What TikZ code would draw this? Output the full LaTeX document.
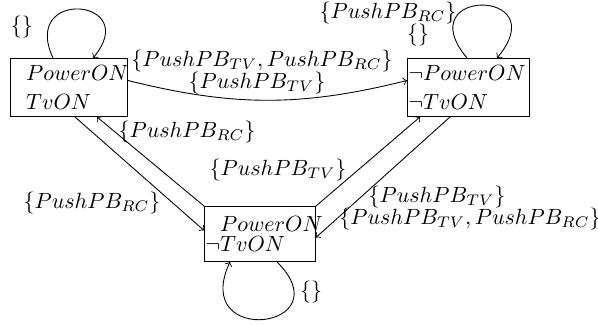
\documentclass[tikz,border=0pt]{standalone}
\usepackage{amsmath}
\usepackage{amssymb}
\usetikzlibrary{arrows,calc}
\tikzstyle{state} = [draw, rectangle, anchor=north west, align=left, inner xsep=0.5pt, inner ysep=0pt, minimum height=26.4pt]
\tikzstyle{trans} = [->]
\newcommand{\push}[1]{PushPB_{#1}}

\begin{document}
\begin{tikzpicture}[x=0.4545pt,y=0.4545pt]
    \useasboundingbox (0,0) rectangle (598,-324);
    % states
    \node[state,text width=52.2pt] (pa) at (10,-58)
        {$\phantom{\neg}PowerON$\\[1pt]$\phantom{\neg}TvON$};
    \node[state,text width=54.5pt] (pb) at (407,-58)
        {$\neg PowerON$\\[1pt]$\neg TvON$};
    \node[state,text width=49.5pt,minimum height=25pt] (pc) at (204,-206)
        {$\phantom{\neg}PowerON$\\[-2.5pt]$\neg TvON$};
    % self loops
    \draw[trans] ($(pa.north west)+(43,0)$) .. controls +(115:78) and +(50:78) .. ($(pa.north west)+(83,0)$);
    \draw[trans] ($(pb.north west)+(60,0)$) .. controls +(130:92) and +(50:92) .. ($(pb.north west)+(90,0)$);
    \draw[trans] ($(pc.south west)+(73,0)$) .. controls +(-45:95) and +(-115:95) .. ($(pc.south west)+(26,0)$);
    % transitions
    \draw[trans] ($(pa.east)+(0,7)$) to[bend right=14] ($(pb.west)+(0,7)$);
    \draw[trans] ($(pa.south west)+(65,0)$) -- ($(pc.west)+(0,3.5)$);
    \draw[trans] (pc.north west) -- ($(pa.south west)+(87,0)$);
    \draw[trans] (pc.north east) -- ($(pb.south west)+(13,0)$);
    \draw[trans] ($(pb.south west)+(43,0)$) -- ($(pc.east)+(0,-3.5)$);
    % labels
    \node (lab-a) at (22,-27) {$\{\}$};
    \node (lab-b1) at (388,-13) {$\{\push{RC}\}$};
    \node (lab-b2) at (418,-35) {$\{\}$};
    \node (lab-ab1) at (262,-61) {$\{\push{TV}, \push{RC}\}$};
    \node (lab-ab2) at (257,-83) {$\{\push{TV}\}$};
    \node (lab-ca) at (187,-132) {$\{\push{RC}\}$};
    \node (lab-ac) at (92,-203) {$\{\push{RC}\}$};
    \node (lab-cb) at (278,-170) {$\{\push{TV}\}$};
    \node (lab-bc1) at (437,-197) {$\{\push{TV}\}$};
    \node (lab-bc2) at (470,-219) {$\{\push{TV}, \push{RC}\}$};
    \node (lab-c) at (311,-292) {$\{\}$};
\end{tikzpicture}
\end{document}
